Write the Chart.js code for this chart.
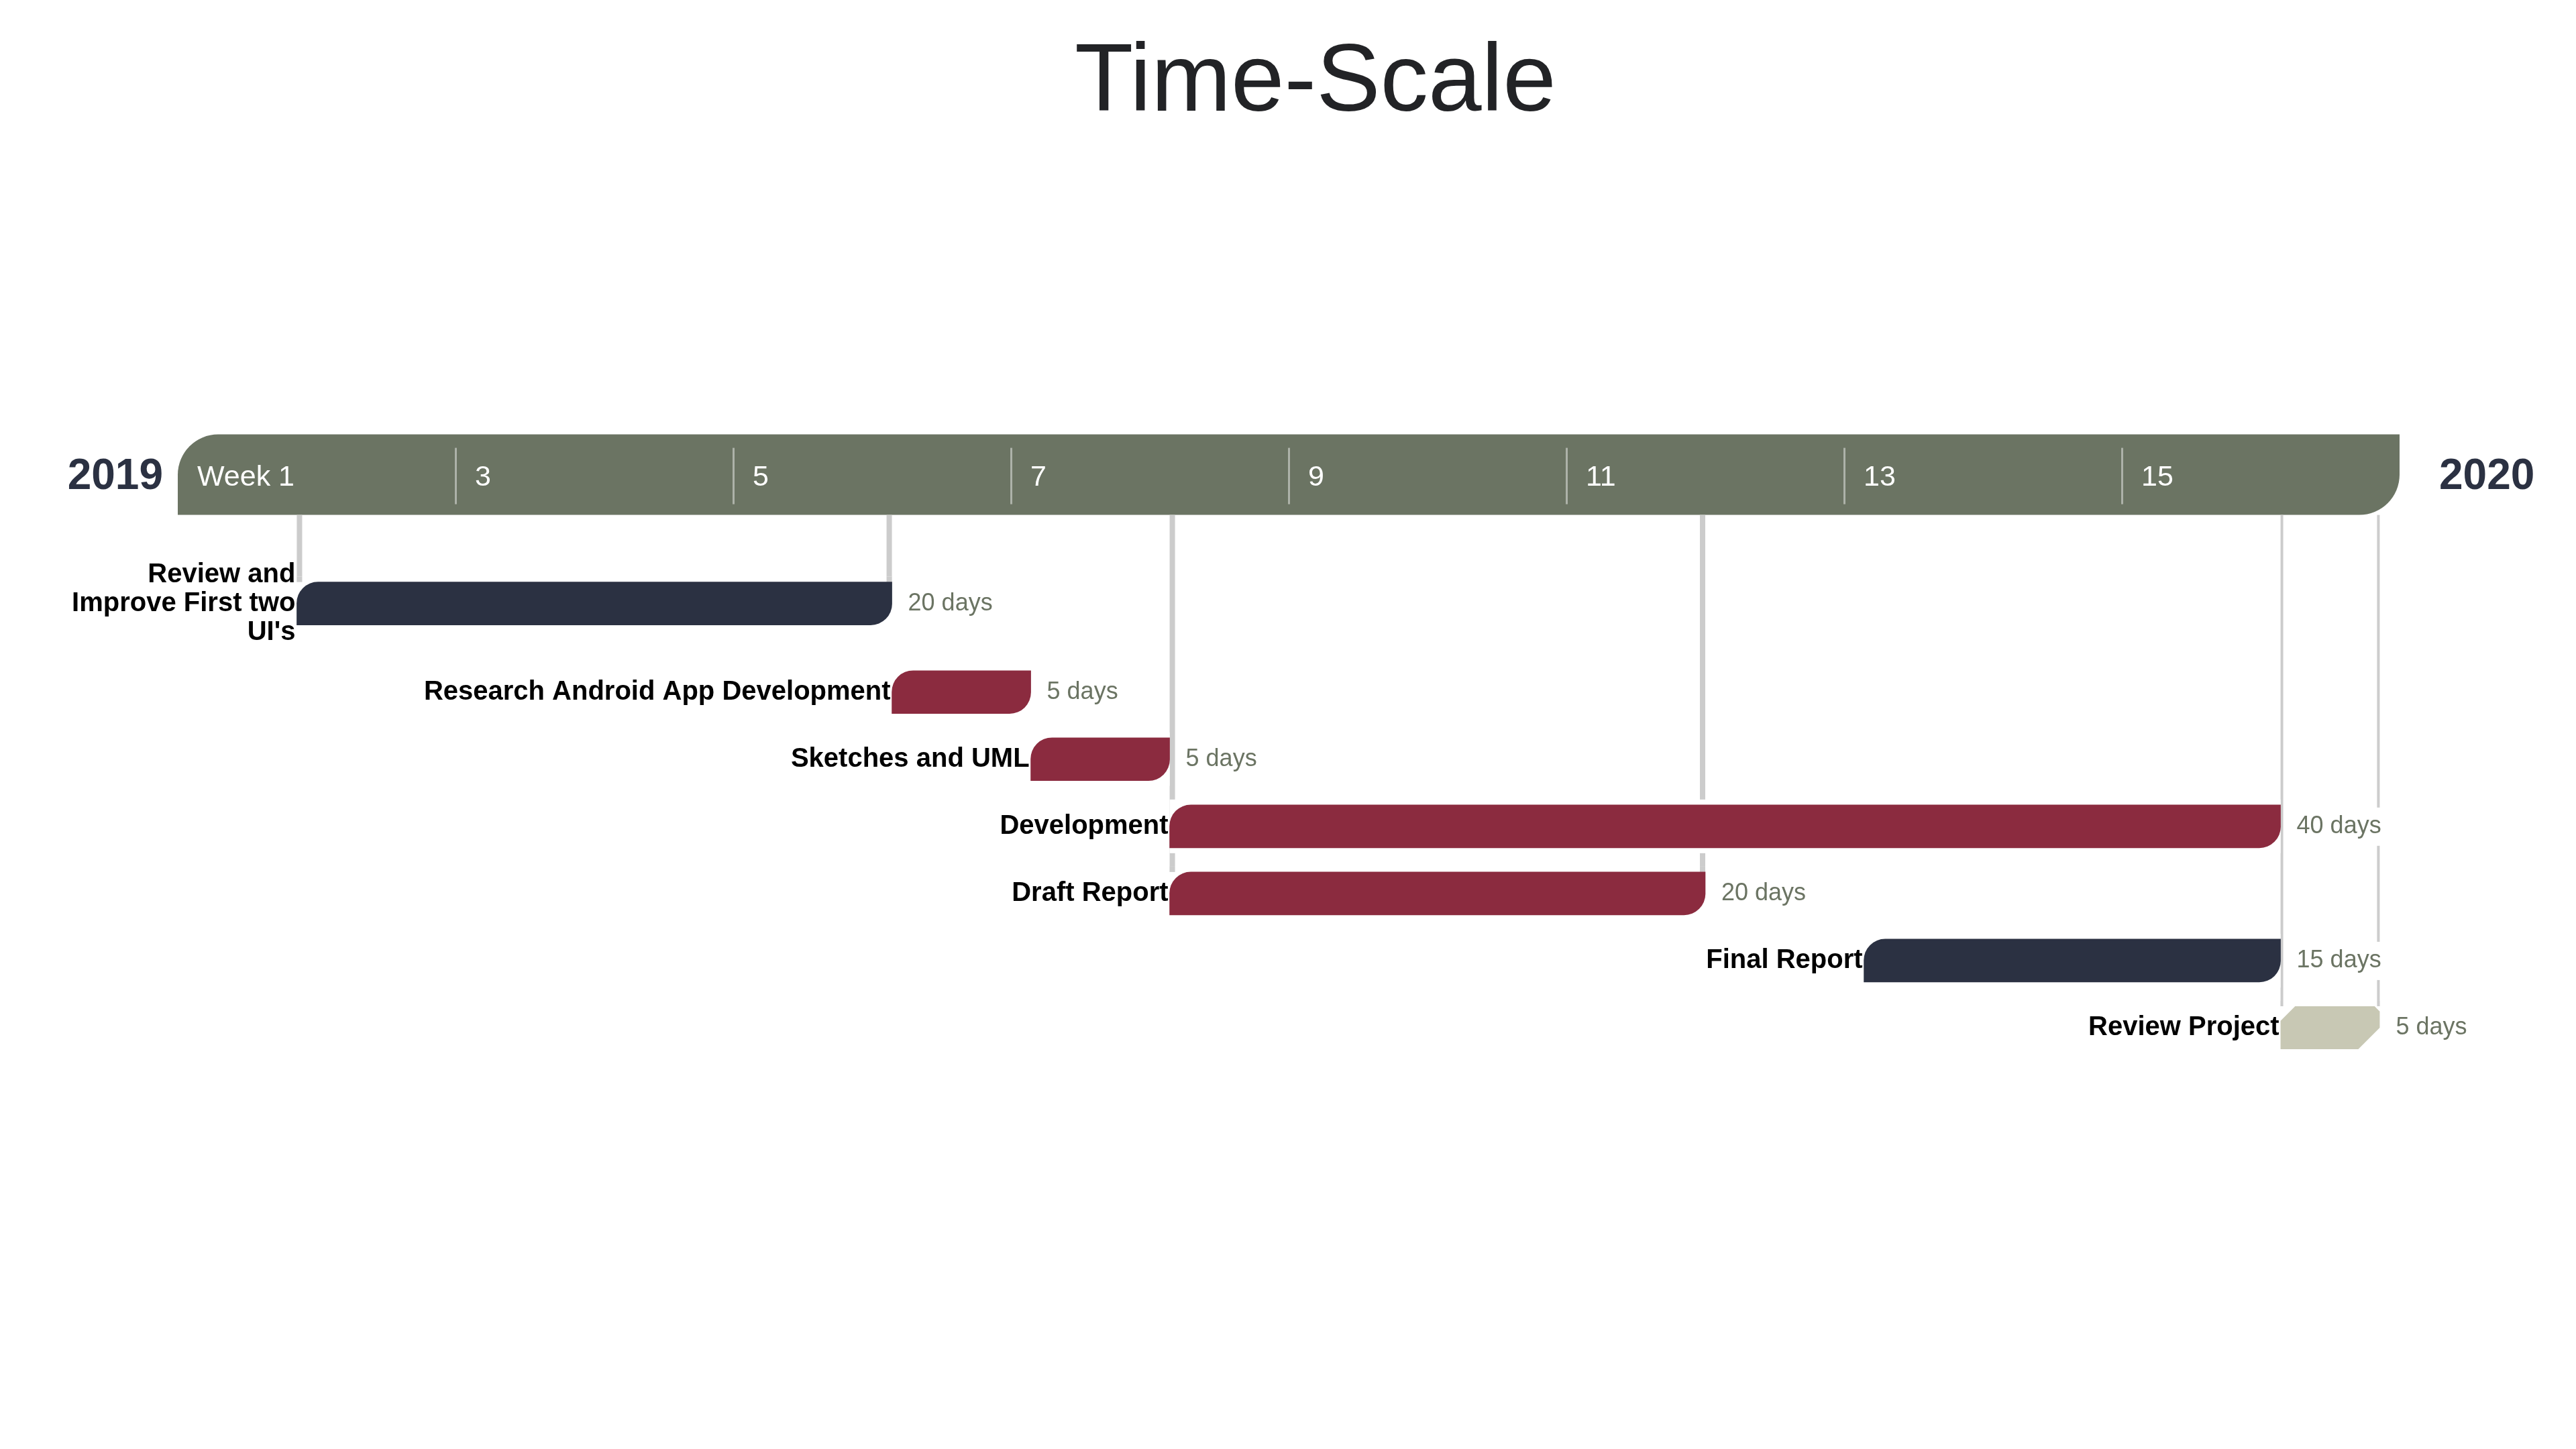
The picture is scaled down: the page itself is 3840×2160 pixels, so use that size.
<!DOCTYPE html>
<html>
<head>
<meta charset="utf-8">
<title>Time-Scale</title>
<script src="https://cdn.jsdelivr.net/npm/chart.js@4.4.1/dist/chart.umd.min.js"></script>
<style>
  html, body { margin: 0; padding: 0; background: #ffffff; overflow: hidden; }
  canvas { display: block; }
</style>
</head>
<body>
<canvas id="c" width="3840" height="2160"></canvas>
<script>
// ---------------- DATA ----------------
const tasks = [
  "Review and Improve First two UI's",
  'Research Android App Development',
  'Sketches and UML',
  'Development',
  'Draft Report',
  'Final Report',
  'Review Project'
];
// calendar days counted from the start of Week 1
const startDay = [6, 36, 43, 50, 50, 85, 106];
const endDay   = [36, 43, 50, 106, 77, 106, 111];
const durationDays = [20, 5, 5, 40, 20, 15, 5];
const weekTickLabels = ['Week 1', '3', '5', '7', '9', '11', '13', '15', ''];
const yearLabels = ['2019', '2020'];
const axisMinDay = 0;
const axisMaxDay = 112;
const tickStepDays = 14;
const taskKind = ['navy', 'maroon', 'maroon', 'maroon', 'maroon', 'navy', 'sand'];
const guideTasks = [0, 4, 6];

// ---------------- STYLE ----------------
const FONT = '"Liberation Sans", Arial, Helvetica, sans-serif';
const COLORS = { navy: '#2b3142', maroon: '#8b2b3f', sand: '#c8c8b4' };
const BAND_COLOR = '#6b7463';
const BAND_H = 120;
const BAND_RADIUS = 60;
const SEP_COLOR = 'rgba(255,255,255,0.45)';
const GUIDE_COLOR = '#cccccc';
const GUIDE_WIDTH = [8, 8, 4];
const HALO = 8;
const YEAR_COLOR = '#2b3142';
const DUR_COLOR = '#6b7463';
const LABEL_FONT_SIZE = 40;
const LABEL_LINE_H = 43;
const DUR_FONT_SIZE = 36;
const LABEL_LEFT_LIMIT = 100;
// relative row heights (first row is taller because its label wraps to three lines)
const ROW_SPANS = [1.64, 1, 1, 1, 1, 1, 1];

// ---------------- CUSTOM ROW SCALE ----------------
class RowCategoryScale extends Chart.CategoryScale {
  _rowEdges() {
    const spans = this.options.rowSpans || [];
    const n = this.getLabels().length;
    const edges = [0];
    for (let i = 0; i < n; i++) edges.push(edges[i] + (spans[i] || 1));
    return edges;
  }
  getPixelForValue(value) {
    if (typeof value !== 'number') value = this.parse(value);
    if (value === null || value === undefined || isNaN(value)) return NaN;
    const e = this._rowEdges();
    const total = e[e.length - 1];
    const i = Math.max(0, Math.min(e.length - 2, Math.round(value)));
    const span = e[i + 1] - e[i];
    const pos = e[i] + span / 2 + (value - i) * span;
    return this.getPixelForDecimal(pos / total);
  }
}
RowCategoryScale.id = 'rowCategory';
RowCategoryScale.defaults = Chart.CategoryScale.defaults;
Chart.register(RowCategoryScale);

// ---------------- HELPERS ----------------
function barOf(chart, i) {
  for (let d = 0; d < chart.data.datasets.length; d++) {
    const meta = chart.getDatasetMeta(d);
    const parsed = meta.controller.getParsed(i);
    if (parsed && parsed.x !== null && parsed.x !== undefined && !isNaN(parsed.x)) {
      const el = meta.data[i];
      const p = el.getProps(['x', 'y', 'base', 'height'], true);
      return {
        el: el,
        left: Math.min(p.x, p.base), right: Math.max(p.x, p.base),
        top: p.y - p.height / 2, bottom: p.y + p.height / 2, y: p.y
      };
    }
  }
  return null;
}

function wrapText(ctx, text, maxWidth) {
  const words = text.split(' ');
  const lines = [];
  let cur = '';
  for (const w of words) {
    const test = cur ? cur + ' ' + w : w;
    if (cur && ctx.measureText(test).width > maxWidth) {
      lines.push(cur);
      cur = w;
    } else {
      cur = test;
    }
  }
  if (cur) lines.push(cur);
  return lines;
}

const timelinePlugin = {
  id: 'timeline',
  beforeDraw(chart) {
    const ctx = chart.ctx;
    const xs = chart.scales.x;
    const top = xs.top;
    ctx.save();
    ctx.fillStyle = '#ffffff';
    ctx.fillRect(0, 0, chart.width, chart.height);
    // header band
    ctx.fillStyle = BAND_COLOR;
    ctx.beginPath();
    ctx.roundRect(xs.left, top, xs.right - xs.left, BAND_H, [BAND_RADIUS, 0, BAND_RADIUS, 0]);
    ctx.fill();
    // separators at inner ticks
    ctx.fillStyle = SEP_COLOR;
    for (let i = 1; i < xs.ticks.length - 1; i++) {
      const px = xs.getPixelForTick(i);
      ctx.fillRect(Math.round(px) - 1, top + 20, 3, BAND_H - 36);
    }
    // year labels
    ctx.fillStyle = YEAR_COLOR;
    ctx.font = 'bold 64px ' + FONT;
    ctx.textBaseline = 'middle';
    ctx.textAlign = 'right';
    ctx.fillText(yearLabels[0], xs.left - 22, top + BAND_H / 2 + 4);
    ctx.textAlign = 'left';
    ctx.fillText(yearLabels[1], xs.right + 59, top + BAND_H / 2 + 4);
    ctx.restore();
  },
  beforeDatasetsDraw(chart) {
    const ctx = chart.ctx;
    const xs = chart.scales.x;
    const bandBottom = xs.top + BAND_H;
    ctx.save();
    // guide lines
    ctx.fillStyle = GUIDE_COLOR;
    guideTasks.forEach((t, k) => {
      const b = barOf(chart, t);
      if (!b) return;
      const w = GUIDE_WIDTH[k];
      ctx.fillRect(b.left, bandBottom, w, b.top - bandBottom);
      ctx.fillRect(b.right - w, bandBottom, w, b.top - bandBottom);
    });
    // white halos around bars
    ctx.fillStyle = '#ffffff';
    for (let i = 0; i < tasks.length; i++) {
      const b = barOf(chart, i);
      if (!b) continue;
      ctx.fillRect(b.left, b.top - HALO, b.right - b.left, b.bottom - b.top + 2 * HALO);
    }
    // white boxes behind duration labels
    ctx.font = DUR_FONT_SIZE + 'px ' + FONT;
    for (let i = 0; i < tasks.length; i++) {
      const b = barOf(chart, i);
      if (!b) continue;
      const txt = durationDays[i] + ' days';
      const w = ctx.measureText(txt).width;
      ctx.fillRect(b.right + 24 - 6, b.y - 28, w + 12, 57);
    }
    // restore own guide segments just above their bars
    ctx.fillStyle = GUIDE_COLOR;
    guideTasks.forEach((t, k) => {
      const b = barOf(chart, t);
      if (!b) return;
      const w = GUIDE_WIDTH[k];
      ctx.fillRect(b.left, b.top - HALO, w, HALO);
      ctx.fillRect(b.right - w, b.top - HALO, w, HALO);
    });
    ctx.restore();
  },
  beforeDatasetDraw(chart, args) {
    const ds = chart.data.datasets[args.index];
    if (!ds.chamfer) return;
    const ctx = chart.ctx;
    const meta = args.meta;
    ctx.save();
    meta.data.forEach((el, i) => {
      const parsed = meta.controller.getParsed(i);
      if (!parsed || parsed.x === null || isNaN(parsed.x)) return;
      const p = el.getProps(['x', 'y', 'base', 'height'], true);
      const L = Math.min(p.x, p.base), R = Math.max(p.x, p.base);
      const T = p.y - p.height / 2, B = p.y + p.height / 2, h = B - T;
      const c1 = h * 0.34, c2 = h * 0.5, c3 = h * 0.12;
      ctx.fillStyle = el.options.backgroundColor;
      ctx.beginPath();
      ctx.moveTo(L, T + c1);
      ctx.lineTo(L + c1, T);
      ctx.lineTo(R - c3, T);
      ctx.lineTo(R, T + c3);
      ctx.lineTo(R, B - c2);
      ctx.lineTo(R - c2, B);
      ctx.lineTo(L, B);
      ctx.closePath();
      ctx.fill();
    });
    ctx.restore();
    return false;
  },
  afterDatasetsDraw(chart) {
    const ctx = chart.ctx;
    ctx.save();
    ctx.textBaseline = 'middle';
    for (let i = 0; i < tasks.length; i++) {
      const b = barOf(chart, i);
      if (!b) continue;
      // task name
      ctx.font = 'bold ' + LABEL_FONT_SIZE + 'px ' + FONT;
      ctx.fillStyle = '#000000';
      ctx.textAlign = 'right';
      const lines = wrapText(ctx, tasks[i], b.left - 2 - LABEL_LEFT_LIMIT);
      lines.forEach((ln, k) => {
        ctx.fillText(ln, b.left - 2, b.y + (k - (lines.length - 1) / 2) * LABEL_LINE_H);
      });
      // duration
      ctx.font = DUR_FONT_SIZE + 'px ' + FONT;
      ctx.fillStyle = DUR_COLOR;
      ctx.textAlign = 'left';
      ctx.fillText(durationDays[i] + ' days', b.right + 24, b.y);
    }
    ctx.restore();
  }
};

// ---------------- CHART ----------------
const roundData = tasks.map((_, i) => taskKind[i] !== 'sand' ? [startDay[i], endDay[i]] : null);
const chamferData = tasks.map((_, i) => taskKind[i] === 'sand' ? [startDay[i], endDay[i]] : null);
const colorFor = (c) => COLORS[taskKind[c.dataIndex]];

new Chart(document.getElementById('c'), {
  type: 'bar',
  data: {
    labels: tasks,
    datasets: [
      {
        label: 'Tasks',
        data: roundData,
        backgroundColor: colorFor,
        borderWidth: 0,
        borderSkipped: false,
        borderRadius: { topLeft: 32, topRight: 0, bottomLeft: 0, bottomRight: 32 },
        grouped: false,
        barThickness: 64
      },
      {
        label: 'Review',
        data: chamferData,
        chamfer: true,
        backgroundColor: colorFor,
        borderWidth: 0,
        grouped: false,
        barThickness: 64
      }
    ]
  },
  options: {
    indexAxis: 'y',
    responsive: false,
    devicePixelRatio: 1,
    animation: false,
    events: [],
    layout: { padding: { top: 0, left: 265, right: 183, bottom: 578 } },
    plugins: {
      legend: { display: false },
      tooltip: { enabled: false },
      title: {
        display: true,
        text: 'Time-Scale',
        color: '#222326',
        font: { family: FONT, size: 143, weight: 'normal' },
        padding: { top: 40, bottom: 436 }
      }
    },
    scales: {
      x: {
        type: 'linear',
        position: 'top',
        min: axisMinDay,
        max: axisMaxDay,
        grid: { display: false, drawTicks: true, tickLength: 40 },
        border: { display: false },
        ticks: {
          stepSize: tickStepDays,
          autoSkip: false,
          maxRotation: 0,
          align: 'start',
          labelOffset: 29,
          padding: 39.2,
          color: '#ffffff',
          font: { family: FONT, size: 43 },
          callback: (value, index) => weekTickLabels[index]
        }
      },
      y: {
        type: 'rowCategory',
        position: 'right',
        rowSpans: ROW_SPANS,
        grid: { display: false },
        border: { display: false },
        ticks: { display: false },
        afterFit: (scale) => { scale.width = 80; }
      }
    }
  },
  plugins: [timelinePlugin]
});
</script>
</body>
</html>
